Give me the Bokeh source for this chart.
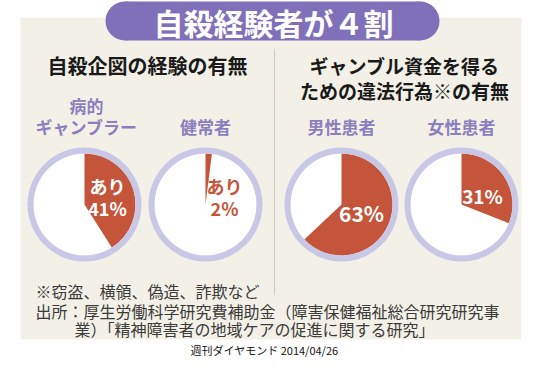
import math
from bokeh.plotting import figure
from bokeh.models import Range1d, ColumnDataSource
from bokeh.core.properties import value
from bokeh.embed import file_html
from bokeh.resources import INLINE

# ---- data ----
title = "自殺経験者が４割"
section_left = ["自殺企図の経験の有無"]
section_right = ["ギャンブル資金を得る", "ための違法行為※の有無"]
groups = [["病的", "ギャンブラー"], ["健常者"], ["男性患者"], ["女性患者"]]
values = [41, 2, 63, 31]
value_prefix = ["あり", "あり", "", ""]
notes = ["※窃盗、横領、偽造、詐欺など",
         "出所：厚生労働科学研究費補助金（障害保健福祉総合研究研究事",
         "業）「精神障害者の地域ケアの促進に関する研究」"]
credit = "週刊ダイヤモンド 2014/04/26"

# ---- layout (image pixel coordinates, y downward) ----
W, H = 534, 358
OFF = 8
def Y(v):
    return (H + OFF) - v

FONT = value("Noto Sans CJK JP")
RED = "#c4553a"
RING = "#c9c7e6"
PURPLE = "#7f70b9"
LABEL_PURPLE = "#8b7fc0"
BG = "#f3f1e7"

p = figure(width=W, height=H, output_backend="svg", toolbar_location=None,
           x_range=Range1d(OFF, OFF + W), y_range=Range1d(0, H),
           min_border=0)
p.axis.visible = False
p.grid.visible = False
p.outline_line_color = None
p.background_fill_color = "white"
p.border_fill_color = "white"

# panel
p.quad(left=[28], right=[529], top=[Y(25)], bottom=[Y(347)], fill_color=BG, line_color=None)

# title pill
pill_l, pill_r, pill_t, pill_b = 113, 447, 9, 48
pr = (pill_b - pill_t) / 2
p.quad(left=[pill_l + pr], right=[pill_r - pr], top=[Y(pill_t)], bottom=[Y(pill_b)],
       fill_color=PURPLE, line_color=None)
p.circle(x=[pill_l + pr, pill_r - pr], y=[Y(pill_t + pr)] * 2, radius=pr,
         fill_color=PURPLE, line_color=None)
p.text(x=[281], y=[Y(29)], text=[title], text_font=FONT, text_font_style="bold",
       text_font_size="30px", text_color="white", text_align="center", text_baseline="middle")

# divider
p.segment(x0=[282], y0=[Y(57)], x1=[282], y1=[Y(303)], line_color="#a8a8a8",
          line_width=1, line_dash="1 1")

# section titles
p.text(x=[155], y=[Y(73)], text=section_left, text_font=FONT, text_font_style="bold",
       text_font_size="20px", text_color="#1a1a1a", text_align="center", text_baseline="middle")
p.text(x=[412, 412], y=[Y(73), Y(98)], text=section_right, text_font=FONT, text_font_style="bold",
       text_font_size="19px", text_color="#1a1a1a", text_align="center", text_baseline="middle")

# pies
cx = [92, 213, 349, 469]
cy = 212
R_OUT, R_IN = 57, 51
src = ColumnDataSource(dict(
    x=cx, y=[Y(cy)] * 4,
    start=[math.pi / 2 - v / 100 * 2 * math.pi for v in values],
    end=[math.pi / 2] * 4,
))
p.circle(x="x", y="y", radius=R_IN, source=src, fill_color="white", line_color=None)
p.wedge(x="x", y="y", radius=R_IN, start_angle="start", end_angle="end",
        direction="anticlock", source=src, fill_color=RED, line_color=None)
p.annulus(x="x", y="y", inner_radius=R_IN, outer_radius=R_OUT, source=src,
          fill_color=RING, line_color=None)

# group labels (bottom line aligned at y=134)
for i, lines in enumerate(groups):
    n = len(lines)
    ys = [Y(134 - 21 * (n - 1 - k)) for k in range(n)]
    p.text(x=[cx[i] + (2 if n > 1 else 0)] * n, y=ys, text=lines, text_font=FONT,
           text_font_style="bold", text_font_size="17px", text_color=LABEL_PURPLE,
           text_align="center", text_baseline="middle")

# value labels
vx = [115, 232, 369, 490]
vy = [215, 215, 220, 203]
vcol = ["white", RED, "white", "white"]
vsize = ["18px", "18px", "21px", "19px"]
for i in range(4):
    p.text(x=[vx[i]], y=[Y(vy[i])], text=[f"{values[i]}%"], text_font=FONT,
           text_font_style="bold", text_font_size=vsize[i], text_color=vcol[i],
           text_align="center", text_baseline="middle")
    if value_prefix[i]:
        p.text(x=[vx[i]], y=[Y(vy[i] - 22)], text=[value_prefix[i]], text_font=FONT,
               text_font_style="bold", text_font_size=vsize[i], text_color=vcol[i],
               text_align="center", text_baseline="middle")

# notes
p.text(x=[43, 43, 82], y=[Y(298), Y(318), Y(336)], text=notes, text_font=FONT,
       text_font_size="16px", text_color="#3a3a3a", text_align="left", text_baseline="middle")

# credit
p.text(x=[272], y=[Y(357)], text=[credit], text_font=FONT, text_font_size="11px",
       text_color="#111111", text_align="center", text_baseline="middle")

open("out.html", "w").write(file_html(p, INLINE))
